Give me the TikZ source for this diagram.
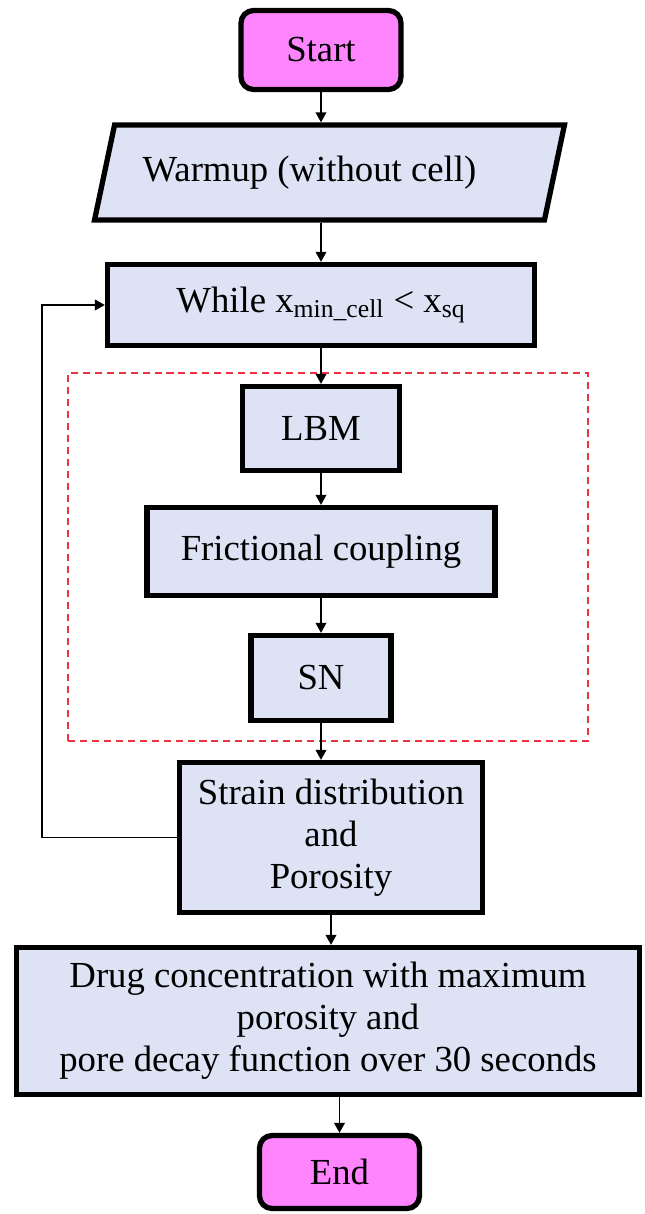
\documentclass[tikz,border=0pt]{standalone}
\usepackage{fontspec}
\setmainfont{Liberation Serif}
\usetikzlibrary{arrows.meta,shapes.geometric}

\definecolor{boxblue}{RGB}{221,227,245}
\definecolor{termpink}{RGB}{255,133,255}
\definecolor{framered}{RGB}{232,52,64}

\tikzset{
  block/.style={rectangle,draw,line width=3pt,fill=boxblue,inner sep=0pt,align=center},
  term/.style={block,fill=termpink,rounded corners=0.25cm},
  io/.style={block,trapezium,trapezium left angle=59,trapezium right angle=121,trapezium stretches body},
  arr/.style={-{Triangle[length=5.7pt,width=6pt]},line width=1.1pt},
  loopframe/.style={rectangle,draw=framered,line width=1.1pt,dash pattern=on 4pt off 2.8pt,inner sep=0pt}
}

\begin{document}
\begin{tikzpicture}[x=0.02cm,y=-0.02cm]
\useasboundingbox (0,0) rectangle (645,1214);
\node [loopframe, minimum width=10.4cm, minimum height=7.36cm] (frame) at (328,557) {};
\begin{scope}[every node/.style={font=\fontsize{20.9pt}{24pt}\selectfont}]
    \node [term, minimum width=3.2cm, minimum height=1.58cm] (start) at (321,50) {Start};
    \node [io, minimum width=9.4cm, minimum height=1.9cm] (warm) at (329.5,172.5) {Warmup (without cell)\hspace*{0.8cm}};
    \node [block, minimum width=8.54cm, minimum height=1.62cm] (cond) at (321,305) {While x\textsubscript{min\_cell} < x\textsubscript{sq}};
    \node [block, minimum width=3.14cm, minimum height=1.68cm] (lbm) at (321,428.5) {LBM};
    \node [block, minimum width=6.96cm, minimum height=1.76cm] (fric) at (321,551.5) {Frictional coupling};
    \node [block, minimum width=2.8cm, minimum height=1.7cm] (sn) at (321,678) {SN};
    \node [block, minimum width=6.06cm, minimum height=3cm] (strain) at (331,837.5) {Strain distribution\\and\\Porosity};
    \node [block, minimum width=12.46cm, minimum height=2.94cm] (drug) at (328,1021) {Drug concentration with maximum\\porosity and\\pore decay function over 30 seconds};
    \node [term, minimum width=3.2cm, minimum height=1.46cm] (stop) at (339.5,1172) {End};
    \coordinate (back) at (42,0);
        \path [arr] (start) edge (start |- warm.north);
        \path [arr] (cond |- warm.south) edge (cond);
        \path [arr] (cond) edge (lbm);
        \path [arr] (lbm) edge (fric);
        \path [arr] (fric) edge (sn);
        \path [arr] (sn) edge (sn |- strain.north);
        \path [arr] (strain) edge (strain |- drug.north);
        \path [arr] (drug.south -| stop) edge (stop);
        \draw [arr] (strain) -- (strain -| back) |- (cond);
\end{scope}
\end{tikzpicture}
\end{document}
